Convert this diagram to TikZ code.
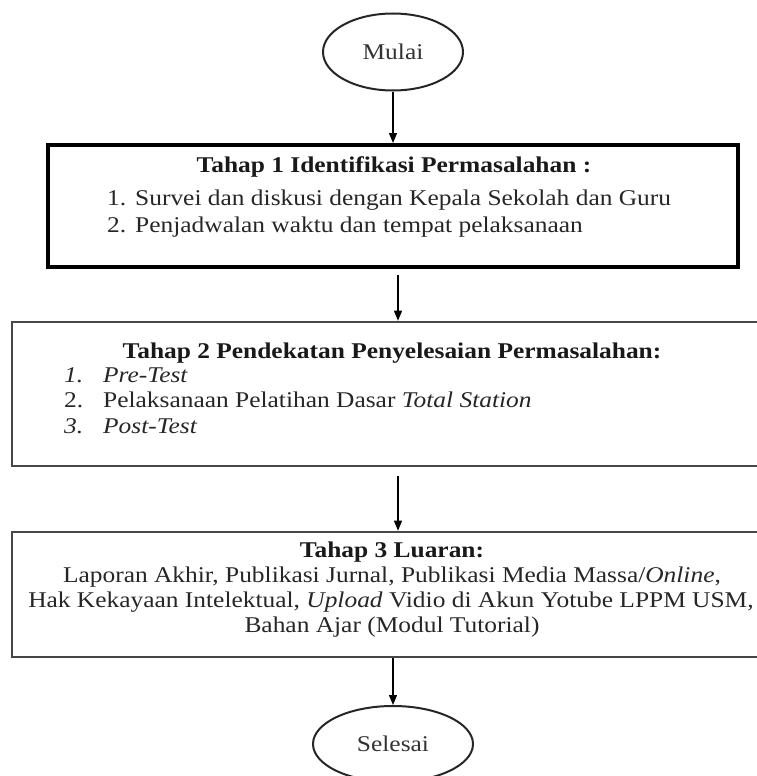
\documentclass[tikz,border=0pt]{standalone}
\usepackage{fontspec}
\setmainfont{Liberation Serif}[FakeStretch=1.13]
\usetikzlibrary{arrows.meta,shapes.geometric}
\begin{document}
\begin{tikzpicture}[x=1pt,y=-1pt,
 txt/.style={inner sep=0pt, text=black!85, font=\fontsize{22.5}{27}\selectfont},
 ttl/.style={inner sep=0pt, text=black!90, font=\fontsize{22.5}{27}\selectfont\bfseries},
 term/.style={ellipse, draw=black!85, line width=2pt, inner sep=0pt, font=\fontsize{22.5}{27}\selectfont, text=black!80},
 boxA/.style={rectangle, draw=black, line width=4pt, inner sep=0pt},
 boxB/.style={rectangle, draw=black!72, line width=2.6pt, inner sep=0pt},
 arr/.style={-{Triangle[length=10pt,width=8pt]}, line width=1.3pt, black}
]
\useasboundingbox (0,0) rectangle (757,776);
% terminals
\node[term, minimum width=140pt, minimum height=77pt] (start) at (393,52) {Mulai};
\node[term, minimum width=160pt, minimum height=76pt] (stop) at (393,744) {Selesai};
% boxes
\node[boxA, minimum width=690pt, minimum height=122pt] (b1) at (393,206) {};
\node[boxB, minimum width=768pt, minimum height=144pt] (b2) at (396,394) {};
\node[boxB, minimum width=768pt, minimum height=125pt] (b3) at (396,594.5) {};
\coordinate (ax) at (398,0);
% box 1 text
\node[ttl, anchor=base] (t1) at (394,172) {Tahap 1 Identifikasi Permasalahan :};
\node[txt, anchor=base west] (n11) at (107,205) {1.};
\node[txt, anchor=base west] (i11) at (135,205) {Survei dan diskusi dengan Kepala Sekolah dan Guru};
\node[txt, anchor=base west] (n12) at (107,232) {2.};
\node[txt, anchor=base west] (i12) at (135,232) {Penjadwalan waktu dan tempat pelaksanaan};
% box 2 text
\node[ttl, anchor=base] (t2) at (392,358) {Tahap 2 Pendekatan Penyelesaian Permasalahan:};
\node[txt, anchor=base west] (n21) at (64,382) {\textit{1.}};
\node[txt, anchor=base west] (i21) at (103,382) {\textit{Pre-Test}};
\node[txt, anchor=base west] (n22) at (64,407) {2.};
\node[txt, anchor=base west] (i22) at (103,407) {Pelaksanaan Pelatihan Dasar \textit{Total Station}};
\node[txt, anchor=base west] (n23) at (64,433) {\textit{3.}};
\node[txt, anchor=base west] (i23) at (103,433) {\textit{Post-Test}};
% box 3 text
\node[ttl, anchor=base] (t3) at (392,557) {Tahap 3 Luaran:};
\node[txt, anchor=base] (l31) at (392,582) {Laporan Akhir, Publikasi Jurnal, Publikasi Media Massa/\textit{Online},};
\node[txt, anchor=base] (l32) at (391,607) {Hak Kekayaan Intelektual, \textit{Upload} Vidio di Akun Yotube LPPM USM,};
\node[txt, anchor=base] (l33) at (392,632) {Bahan Ajar (Modul Tutorial)};
% connectors
\draw[arr] (start.south) -- (b1.north);
\draw[arr] ([yshift=-6pt]b1.south -| ax) -- (b2.north -| ax);
\draw[arr] ([yshift=-9pt]b2.south -| ax) -- (b3.north -| ax);
\draw[arr] (b3.south -| stop.north) -- (stop.north);
\end{tikzpicture}
\end{document}
